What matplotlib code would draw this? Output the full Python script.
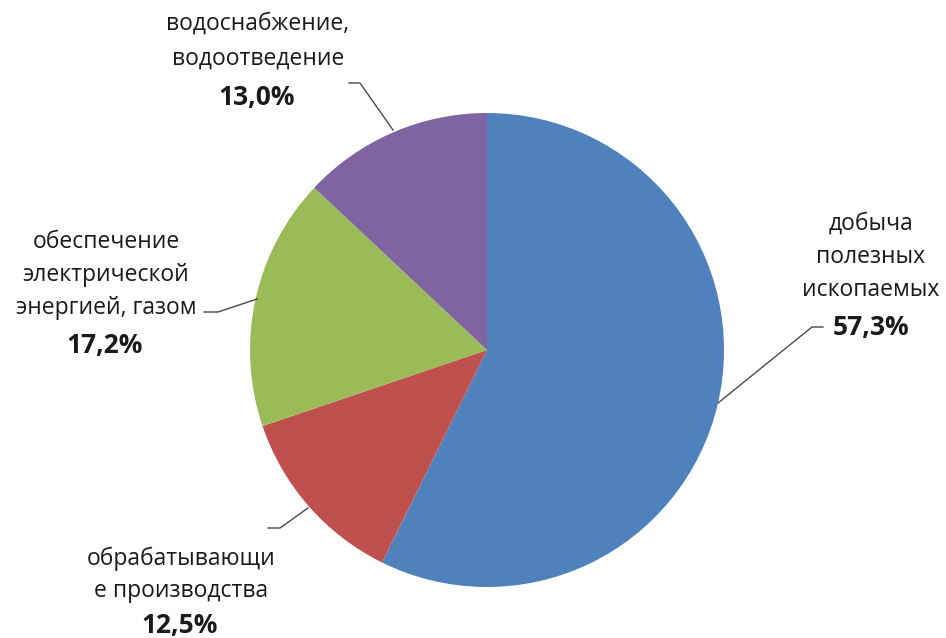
import matplotlib
matplotlib.use("Agg")
import matplotlib.pyplot as plt

plt.rcParams['font.family'] = ['Open Sans', 'DejaVu Sans']

# Data
categories = ["добыча\nполезных\nископаемых",
              "обрабатывающи\nе производства",
              "обеспечение\nэлектрической\nэнергией, газом",
              "водоснабжение,\nводоотведение"]
values = [57.3, 12.5, 17.2, 13.0]
pct_labels = ["57,3%", "12,5%", "17,2%", "13,0%"]
colors = ["#4F81BD", "#C0504D", "#9BBB59", "#8064A2"]

W, H = 946, 638
fig = plt.figure(figsize=(W / 100, H / 100), dpi=100)
ax = fig.add_axes([0, 0, 1, 1])
ax.set_xlim(0, W)
ax.set_ylim(H, 0)
ax.axis('off')

cx, cy, R = 487, 350, 237
pax = fig.add_axes([(cx - R) / W, (H - cy - R) / H, 2 * R / W, 2 * R / H])
pax.pie(values, colors=colors, startangle=90, counterclock=False,
        radius=1, wedgeprops=dict(linewidth=0))
pax.set_xlim(-1, 1)
pax.set_ylim(-1, 1)
pax.set_aspect('auto')
pax.axis('off')

# Layout (pixel coordinates)
name_x = [871, 181, 106, 258]
name_ys = [[224, 257, 290], [559, 591], [242, 275, 308], [24, 59]]
pct_pos = [(871, 328), (180, 626), (105, 345), (257, 97)]
leaders = [
    [(718, 403), (812, 327), (823, 327)],
    [(308, 508), (280, 528), (268, 528)],
    [(257, 299), (218, 312), (204, 312)],
    [(393, 130), (360, 83), (349, 83)],
]

fs = 16.5
tc = "#1a1a1a"
for name, pct, nx, nys, ppos, ld in zip(categories, pct_labels, name_x, name_ys, pct_pos, leaders):
    for line, yy in zip(name.split("\n"), nys):
        ax.text(nx, yy, line, ha='center', va='center', fontsize=fs,
                color=tc, zorder=5)
    ax.text(ppos[0], ppos[1], pct, ha='center', va='center', fontsize=19,
            fontweight='bold', color=tc, zorder=5)
    ax.plot([p[0] for p in ld], [p[1] for p in ld], color="#4a4a4a", lw=1.0, zorder=4)

ax.set_zorder(2)
ax.patch.set_visible(False)

fig.savefig("out.png", dpi=100)
